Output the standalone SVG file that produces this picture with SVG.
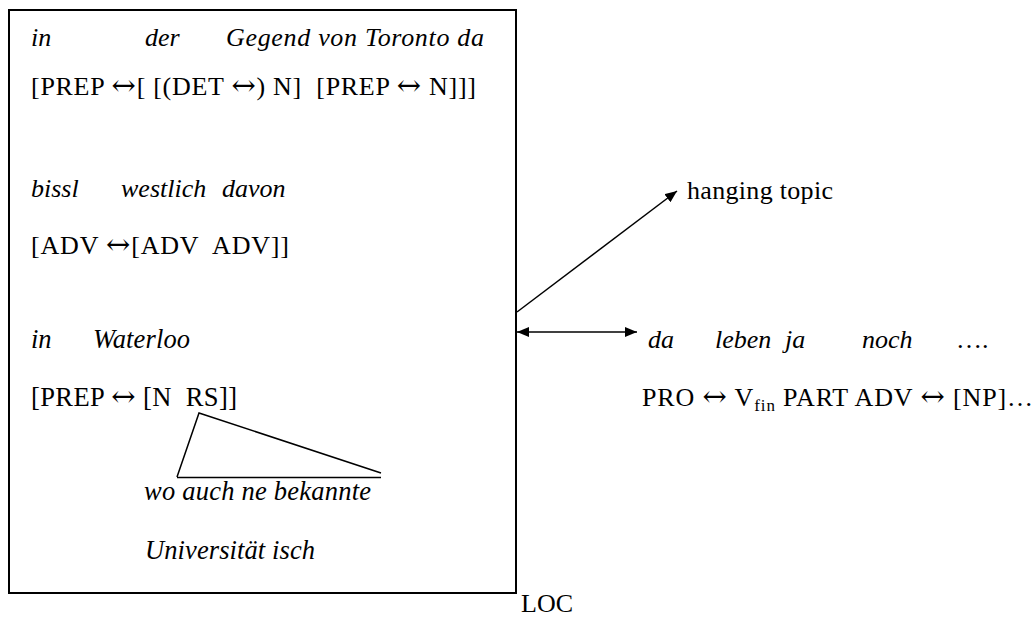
<svg xmlns="http://www.w3.org/2000/svg" width="1036" height="618" viewBox="0 0 1036 618">
<defs>
<style>
text{font-family:"Liberation Serif","Times New Roman",serif;font-size:26px;fill:#000}
.i{font-style:italic}
.s{font-size:26.5px}
.a{font-family:"DejaVu Serif","Liberation Serif",serif;font-size:29px;font-style:normal}
.ln{stroke:#000;stroke-width:1.5;fill:none}
</style>
<marker id="ah" markerUnits="userSpaceOnUse" markerWidth="12" markerHeight="10" refX="12" refY="5" orient="auto-start-reverse">
<path d="M0,0 L12,5 L0,10 z" fill="#000"/>
</marker>
</defs>
<rect width="1036" height="618" fill="#fff"/>
<g id="box">
<rect x="9" y="10" width="507" height="583" fill="none" stroke="#000" stroke-width="2"/>
<text class="i" x="31" y="46">in</text>
<text class="i" x="145" y="46">der</text>
<text class="i" x="226" y="46" textLength="258" lengthAdjust="spacing">Gegend von Toronto da</text>
<text x="31" y="95" xml:space="preserve" textLength="445" lengthAdjust="spacing">[PREP <tspan class="a">↔</tspan>[ [(DET <tspan class="a">↔</tspan>) N]  [PREP <tspan class="a">↔</tspan> N]]]</text>
<text class="i" x="31" y="197">bissl</text>
<text class="i" x="121" y="197">westlich</text>
<text class="i" x="222" y="197">davon</text>
<text x="31" y="254" xml:space="preserve" textLength="258" lengthAdjust="spacing">[ADV <tspan class="a">↔</tspan>[ADV  ADV]]</text>
<text class="i s" x="31" y="348">in</text>
<text class="i s" x="93" y="348" textLength="97" lengthAdjust="spacing">Waterloo</text>
<text class="s" x="31" y="406" xml:space="preserve" textLength="206" lengthAdjust="spacing">[PREP <tspan class="a">↔</tspan> [N  RS]]</text>
<polyline class="ln" points="177,477 199,413 381,473"/>
<line class="ln" x1="177" y1="477.5" x2="381" y2="477.5"/>
<text class="i s" x="144" y="500" textLength="227" lengthAdjust="spacing">wo auch ne bekannte</text>
<text class="i s" x="145" y="559" textLength="170" lengthAdjust="spacing">Universität isch</text>
</g>
<g id="loc"><text x="521" y="612">LOC</text></g>
<g id="hanging"><text x="687" y="199" textLength="146" lengthAdjust="spacing">hanging topic</text></g>
<g id="clause">
<text class="i" x="648" y="348">da</text>
<text class="i" x="715" y="348">leben</text>
<text class="i" x="785" y="348">ja</text>
<text class="i" x="862" y="348">noch</text>
<text x="956" y="348">….</text>
<text x="642" y="406" textLength="391" lengthAdjust="spacing">PRO <tspan class="a">↔</tspan> V<tspan font-size="17" dy="5">fin</tspan><tspan dy="-5"> PART ADV </tspan><tspan class="a">↔</tspan> [NP]…</text>
</g>
<g id="connectors">
<line class="ln" x1="517" y1="312" x2="677" y2="191" marker-end="url(#ah)"/>
<line class="ln" x1="517" y1="332" x2="637" y2="332" marker-start="url(#ah)" marker-end="url(#ah)"/>
</g>
</svg>
